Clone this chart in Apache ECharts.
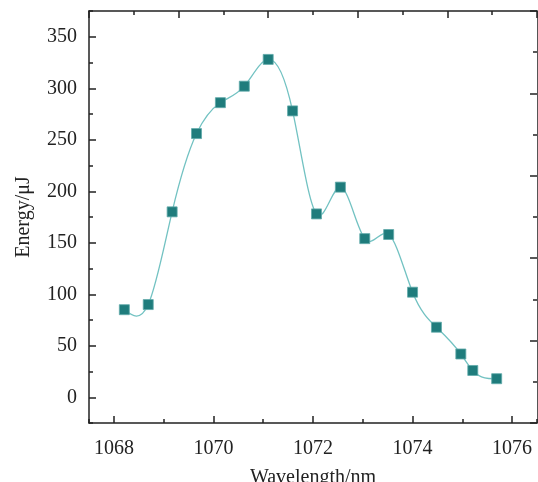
<!DOCTYPE html>
<html>
<head>
<meta charset="utf-8">
<script src="https://cdn.jsdelivr.net/npm/echarts@6/dist/echarts.min.js"></script>
<style>html,body{margin:0;padding:0;background:#fff}#c{width:538px;height:482px}</style>
</head>
<body>
<div id="c"></div>
<script>
const wavelength = [1068.21, 1068.69, 1069.17, 1069.66, 1070.14, 1070.62, 1071.10, 1071.59, 1072.07, 1072.55, 1073.04, 1073.52, 1074.00, 1074.48, 1074.97, 1075.21, 1075.69];
const energy = [85, 90, 180, 256, 286, 302, 328, 278, 178, 204, 154, 158, 102, 68, 42, 26, 18];
const xTickLabels = [1068, 1070, 1072, 1074, 1076];
const yTickLabels = [0, 50, 100, 150, 200, 250, 300, 350];

const FONT = "'Liberation Serif', 'Times New Roman', serif";
const INK = '#222';
const lineStyle = { color: INK, width: 1.5 };

// Natural cubic spline slopes through the measured points (used to draw the connecting curve)
function splineSlopes(xs, ys) {
  const n = xs.length;
  const h = [], d = [];
  for (let i = 0; i < n - 1; i++) { h.push(xs[i + 1] - xs[i]); d.push((ys[i + 1] - ys[i]) / h[i]); }
  const a = new Array(n).fill(0), b = new Array(n).fill(0), c = new Array(n).fill(0), r = new Array(n).fill(0);
  b[0] = 2; c[0] = 1; r[0] = 3 * d[0];
  for (let i = 1; i < n - 1; i++) {
    a[i] = h[i]; b[i] = 2 * (h[i - 1] + h[i]); c[i] = h[i - 1];
    r[i] = 3 * (h[i] * d[i - 1] + h[i - 1] * d[i]);
  }
  a[n - 1] = 1; b[n - 1] = 2; r[n - 1] = 3 * d[n - 2];
  for (let i = 1; i < n; i++) {
    const w = a[i] / b[i - 1];
    b[i] -= w * c[i - 1]; r[i] -= w * r[i - 1];
  }
  const m = new Array(n);
  m[n - 1] = r[n - 1] / b[n - 1];
  for (let i = n - 2; i >= 0; i--) m[i] = (r[i] - c[i] * m[i + 1]) / b[i];
  return m;
}
const slopes = splineSlopes(wavelength, energy);

const chart = echarts.init(document.getElementById('c'), null, { renderer: 'canvas' });
chart.setOption({
  animation: false,
  backgroundColor: '#fff',
  grid: { left: 89, right: 1, top: 11, bottom: 59, containLabel: false, outerBoundsMode: 'none' },
  xAxis: [
    {
      type: 'value', position: 'bottom', min: 1067.5, max: 1076.5, splitNumber: 5,
      name: 'Wavelength/nm', nameLocation: 'middle', nameGap: 45,
      nameTextStyle: { fontFamily: FONT, fontSize: 20, color: INK },
      axisLine: { show: true, onZero: false, lineStyle: lineStyle },
      axisTick: { show: true, inside: true, length: 7, lineStyle: lineStyle },
      axisLabel: {
        show: true, margin: 16, fontFamily: FONT, fontSize: 20, color: INK,
        showMinLabel: false, showMaxLabel: false,
        formatter: v => (xTickLabels.indexOf(Math.round(v * 1000) / 1000) >= 0 ? String(v) : '')
      },
      splitLine: { show: false }
    },
    {
      type: 'value', position: 'bottom', min: 1067.5, max: 1076.5, splitNumber: 9,
      axisLine: { show: false, onZero: false },
      axisTick: { show: true, inside: true, length: 4, lineStyle: lineStyle },
      axisLabel: { show: false },
      splitLine: { show: false }
    },
    {
      type: 'value', position: 'top', min: 0, max: 5, interval: 1,
      axisLine: { show: true, onZero: false, lineStyle: lineStyle },
      axisTick: { show: true, inside: true, length: 7, lineStyle: lineStyle },
      minorTick: { show: true, splitNumber: 2, length: 4, lineStyle: lineStyle },
      axisLabel: { show: false },
      splitLine: { show: false }
    }
  ],
  yAxis: [
    {
      type: 'value', position: 'left', min: -25, max: 375, splitNumber: 8,
      name: 'Energy/μJ', nameLocation: 'middle', nameGap: 55, nameRotate: 90,
      nameTextStyle: { fontFamily: FONT, fontSize: 20, color: INK },
      axisLine: { show: true, onZero: false, lineStyle: lineStyle },
      axisTick: { show: true, inside: true, length: 7, lineStyle: lineStyle },
      axisLabel: {
        show: true, margin: 12, fontFamily: FONT, fontSize: 20, color: INK,
        showMinLabel: false, showMaxLabel: false,
        formatter: v => (yTickLabels.indexOf(Math.round(v)) >= 0 && Math.abs(v - Math.round(v)) < 1e-6 ? String(v) : '')
      },
      splitLine: { show: false }
    },
    {
      type: 'value', position: 'left', min: -25, max: 375, interval: 25,
      axisLine: { show: false, onZero: false },
      axisTick: { show: true, inside: true, length: 4, lineStyle: lineStyle },
      axisLabel: { show: false },
      splitLine: { show: false }
    },
    {
      type: 'value', position: 'right', min: 0, max: 5, interval: 1,
      axisLine: { show: true, onZero: false, lineStyle: { color: '#555', width: 1 } },
      axisTick: { show: true, inside: true, length: 7, lineStyle: lineStyle },
      minorTick: { show: true, splitNumber: 2, length: 4, lineStyle: lineStyle },
      axisLabel: { show: false },
      splitLine: { show: false }
    }
  ],
  series: [
    {
      type: 'custom',
      coordinateSystem: 'cartesian2d',
      xAxisIndex: 0, yAxisIndex: 0,
      data: [[wavelength[0], energy[0]]],
      silent: true,
      z: 2,
      renderItem: function (params, api) {
        const children = [];
        for (let i = 0; i < wavelength.length - 1; i++) {
          const x0 = wavelength[i], x1 = wavelength[i + 1], y0 = energy[i], y1 = energy[i + 1];
          const h = x1 - x0;
          const p0 = api.coord([x0, y0]);
          const c1 = api.coord([x0 + h / 3, y0 + slopes[i] * h / 3]);
          const c2 = api.coord([x1 - h / 3, y1 - slopes[i + 1] * h / 3]);
          const p1 = api.coord([x1, y1]);
          children.push({
            type: 'bezierCurve',
            shape: { x1: p0[0], y1: p0[1], cpx1: c1[0], cpy1: c1[1], cpx2: c2[0], cpy2: c2[1], x2: p1[0], y2: p1[1] },
            style: { stroke: '#72c2c2', fill: null, lineWidth: 1.3 }
          });
        }
        return { type: 'group', children: children };
      }
    },
    {
      type: 'scatter',
      xAxisIndex: 0, yAxisIndex: 0,
      data: wavelength.map((x, i) => [x, energy[i]]),
      symbol: 'rect',
      symbolSize: 10,
      itemStyle: { color: '#1f7c7c', borderColor: '#5fa9a9', borderWidth: 0.8, opacity: 1 },
      z: 3
    }
  ]
});
</script>
</body>
</html>
